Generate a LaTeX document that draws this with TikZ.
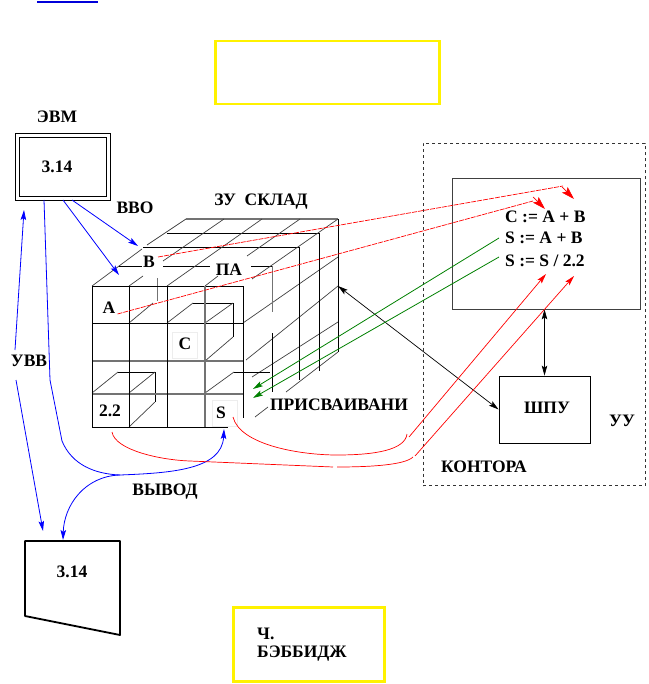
\documentclass[tikz,border=0pt]{standalone}
\usepackage{fontspec}
\setmainfont{Liberation Serif}
\usetikzlibrary{arrows.meta, positioning}

\begin{document}
\begin{tikzpicture}[x=1pt, y=-1pt, >={Stealth[length=10pt, width=5.5pt, inset=2pt]},
		label/.style={inner sep=0pt, font=\fontsize{17.5}{17.5}\selectfont\bfseries},
		cellbox/.style={rectangle, draw=black!7, line width=0.4pt, minimum width=25pt, minimum height=26pt},
		thin line/.style={draw=black!75, line width=0.7pt},
		main line/.style={draw=black, line width=0.9pt},
		grey line/.style={draw=black!55, line width=1.3pt},
		note/.style={rectangle, draw=yellow, fill=white, line width=2.4pt},
		bluearrow/.style={draw=blue, line width=0.8pt},
		redarrow/.style={draw=red, line width=0.7pt},
		greenarrow/.style={draw=green!50!black, line width=0.8pt},
		redhead/.style={-{Stealth[length=13pt, width=8pt, inset=2.5pt]}, draw=red, line width=0.7pt}]
		\useasboundingbox (0,0) rectangle (648,684);
		
		% Titulos
		\draw[blue!85!black, line width=2pt] (37,2) -- (98,2);
		\node[note, minimum width=224pt, minimum height=63pt] (topnote) at (327.5,72.5) {};
		\node[note, minimum width=151pt, minimum height=74pt] (bottomnote) at (309,644.5) {};
		\node[label, anchor=west] (babbage1) at (257,634) {Ч.};
		\node[label, anchor=west] (babbage2) at (257,654) {БЭББИДЖ};
		
		% EVM
		\node[label] (evmtitle) at (57,117) {ЭВМ};
		\node[rectangle, draw=black, line width=0.8pt, minimum width=95pt, minimum height=67pt] (evmouter) at (62.5,166.5) {};
		\node[rectangle, draw=black, line width=0.8pt, minimum width=87pt, minimum height=59pt] (evminner) at (62.5,166.5) {};
		\node[label] (evmvalue) at (57,167) {3.14};
		\node[label] (vvo) at (135,208) {ВВО};
		\node[label] (uvv) at (29,361) {УВВ};
		
		% Cube, back lines
		\draw[thin line] (92,286) -- (142,249);
		\draw[thin line] (147,245) -- (186,219);
		\draw[grey line] (186,219) -- (338,219);
		\draw[main line] (167,233) -- (319,233);
		\draw[main line] (143,247) -- (299,247);
		\draw[main line] (119,266) -- (142,266);
		\draw[main line] (163,266) -- (210,266);
		\draw[main line] (251,266) -- (272,266);
		\draw[thin line] (129,286) -- (143,276);
		\draw[thin line] (163,261) -- (224,219);
		\draw[thin line] (167,286) -- (262,219);
		\draw[thin line] (205,286) -- (218,276);
		\draw[thin line] (247,256) -- (300,219);
		\draw[thin line] (252,279) -- (338,219);
		\draw[thin line] (243,323) -- (338,257);
		\draw[thin line] (246,360) -- (338,286);
		\draw[thin line] (252,377) -- (338,322);
		\draw[thin line] (255,417) -- (268,407);
		\draw[thin line] (286,392) -- (338,352);
		\draw[grey line, line width=1pt] (157,278) -- (157,301);
		\draw[grey line, line width=1pt] (272,266) -- (272,312);
		\draw[main line] (272,333) -- (272,392);
		\draw[main line] (299,247) -- (299,380);
		\draw[main line] (319,233) -- (319,371);
		\draw[main line] (338,219) -- (338,352);
		
		% Cube, inner cells
		\draw[thin line] (129,323) -- (153,303);
		\draw[thin line] (167,323) -- (193,303);
		\draw[main line] (193,303) -- (233,303) -- (233,337);
		\draw[thin line] (205,323) -- (233,303);
		\draw[thin line] (205,361) -- (233,337);
		\draw[thin line] (92,393) -- (118,372);
		\draw[main line] (118,372) -- (155,372) -- (155,402);
		\draw[thin line] (129,393) -- (155,372);
		\draw[thin line] (129,427) -- (155,402);
		\draw[thin line] (205,393) -- (234,372);
		\draw[main line] (234,372) -- (270,372);
		
		% Cube, front face
		\draw[main line] (92,286) -- (243,286);
		\draw[main line] (92,323) -- (243,323);
		\draw[grey line] (92,361) -- (243,361);
		\draw[grey line] (92,394) -- (243,394);
		\draw[main line] (92,427) -- (228,427);
		\draw[main line] (92,286) -- (92,427);
		\draw[main line] (129,286) -- (129,427);
		\draw[main line] (167,286) -- (167,428);
		\draw[grey line] (205,286) -- (205,427);
		\draw[main line] (243,286) -- (243,418);
		
		% Cube labels
		\node[label] (cubetitle) at (261,202) {ЗУ\ \ СКЛАД};
		\node[label] (cellb) at (149,262) {B};
		\node[label] (pa) at (229,270) {ПА};
		\node[label] (cella) at (109,308) {A};
		\node[cellbox] (cellcbox) at (185,345) {};
		\node[label] (cellc) at (185,344) {C};
		\node[label] (cellnum) at (110,411) {2.2};
		\node[cellbox] (cellsbox) at (225,413.5) {};
		\node[label] (cells) at (221,413) {S};
		\node[label] (assign) at (339,405) {ПРИСВАИВАНИ};
		\node[label] (output) at (165,492) {ВЫВОД};
		
		% Control unit
		\node[rectangle, draw=black!80, dashed, line width=0.8pt, minimum width=222pt, minimum height=342pt] (office) at (534,314.5) {};
		\node[rectangle, draw=black!75, line width=0.8pt, minimum width=188pt, minimum height=131pt] (program) at (546,243.5) {};
		\node[rectangle, draw=black, line width=0.8pt, minimum width=91pt, minimum height=67pt] (cpu) at (544.5,409.5) {};
		\node[label] (cputext) at (547,408) {ШПУ};
		\node[label] (uu) at (622,421) {УУ};
		\node[label] (officetitle) at (484,467) {КОНТОРА};
		\node[label, anchor=west] (code1) at (505,217) {C := A + B};
		\node[label, anchor=west] (code2) at (505,238) {S := A + B};
		\node[label, anchor=west] (code3) at (505,261) {S := S / 2.2};
		
		% Free ends
		\coordinate (cubecorner) at (338,286);
		\coordinate (evmdown) at (44,200);
		\coordinate (vvofirst) at (63,200);
		\coordinate (vvosecond) at (72,200);
		\coordinate (cubetop) at (119,275);
		\coordinate (cubeback) at (138,246);
		\coordinate (split) at (120,475);
		\coordinate (stip) at (224,429);
		\coordinate (screentop) at (63,540);
		\coordinate (uvvup) at (24,210);
		\coordinate (uvvtail) at (15,350);
		\coordinate (uvvstart) at (16,380);
		\coordinate (uvvdown) at (43,531);
		
		% Screen
		\node[label] (screenvalue) at (72,572) {3.14};
		\draw[black, line width=1.8pt, line join=round] (25,541) coordinate (screen) -- (120,541) -- (120,635) -- (25,616) -- cycle;
		
		% Arestas
		\draw[<->, black, line width=0.7pt] (cubecorner) -- (cpu.west);
		\draw[<->, black, line width=0.7pt] (cpu.north) -- (cpu.north |- program.south);
		
		\draw[->, bluearrow] (vvofirst) -- (cubetop);
		\draw[->, bluearrow] (vvosecond) -- (cubeback);
		\draw[->, bluearrow] (uvvtail) -- (uvvup);
		\draw[->, bluearrow] (uvvstart) -- (uvvdown);
		\draw[bluearrow] (evmdown) -- (50,380) -- (62,441) .. controls (72,465) and (95,474) .. (split);
		\draw[->, bluearrow] (split) .. controls (170,473) and (222,470) .. (stip);
		\draw[->, bluearrow] (split) .. controls (85,476) and (64,505) .. (screentop);
		
		\draw[->, greenarrow] (499,238) -- (253,389);
		\draw[->, greenarrow] (499,257) -- (253,398);
		
		\draw[redarrow, dash pattern=on 5pt off 1pt] (cella.east)++(2,6) -- (533,201) coordinate (redmidone);
		\draw[redhead] (533,197) -- (545,209);
		\draw[redarrow, dash pattern=on 5pt off 1pt] (cellb.east)++(3,-5) -- (563,186) coordinate (redmidtwo);
		\draw[redhead] (562,187) -- (574,199);
		
		\draw[redarrow] (233,417) .. controls (240,445) and (300,455) .. (337,455) .. controls (375,455) and (405,450) .. (407,434);
		\draw[->, redarrow] (409,437) -- (546,274);
		\draw[redarrow] (112,432) .. controls (115,450) and (160,460) .. (190,461) -- (333,467);
		\draw[redarrow] (337,467) .. controls (370,467) and (405,465) .. (413,457);
		\draw[->, redarrow] (415,456) -- (574,276);
		
	\end{tikzpicture}
\end{document}
